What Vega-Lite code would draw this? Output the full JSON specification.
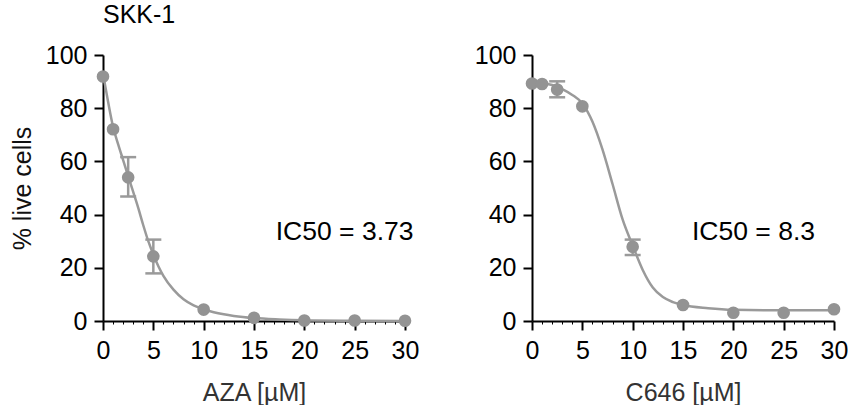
{
  "$schema": "https://vega.github.io/schema/vega-lite/v6.json",
  "background": "white",
  "padding": {"left": 10, "top": 2, "right": 0, "bottom": 0},
  "spacing": 55,
  "config": {
    "font": "Liberation Sans",
    "view": {"stroke": null},
    "axis": {
      "grid": false,
      "labelFlush": false,
      "domainColor": "black",
      "domainWidth": 2,
      "tickColor": "black",
      "tickWidth": 2,
      "tickSize": 9,
      "labelFont": "Liberation Sans",
      "labelFontSize": 25,
      "labelColor": "black",
      "labelPadding": 7,
      "titleFont": "Liberation Sans",
      "titleFontSize": 25,
      "titleFontWeight": "normal",
      "titleColor": "#111111"
    }
  },
  "datasets": {
    "aza_pts": [
      {"dose": 0, "pct": 91.9},
      {"dose": 1, "pct": 72.1},
      {"dose": 2.5, "pct": 54.0, "lo": 46.8, "hi": 61.6},
      {"dose": 5, "pct": 24.3, "lo": 17.9, "hi": 30.6},
      {"dose": 10, "pct": 4.3},
      {"dose": 15, "pct": 1.2},
      {"dose": 20, "pct": 0.2},
      {"dose": 25, "pct": 0.2},
      {"dose": 30, "pct": 0.1}
    ],
    "aza_fit": [
      {"dose": 0, "pct": 93},
      {"dose": 0.5, "pct": 82.5},
      {"dose": 1, "pct": 73},
      {"dose": 1.5, "pct": 66.5},
      {"dose": 2, "pct": 60.5},
      {"dose": 2.5, "pct": 54.5},
      {"dose": 3, "pct": 48.5},
      {"dose": 3.5, "pct": 42.5},
      {"dose": 4, "pct": 36},
      {"dose": 4.5, "pct": 30},
      {"dose": 5, "pct": 25},
      {"dose": 5.5, "pct": 20.6},
      {"dose": 6, "pct": 17},
      {"dose": 7, "pct": 11.8},
      {"dose": 8, "pct": 8.2},
      {"dose": 9, "pct": 5.9},
      {"dose": 10, "pct": 4.4},
      {"dose": 11, "pct": 3.3},
      {"dose": 12, "pct": 2.5},
      {"dose": 13, "pct": 1.9},
      {"dose": 15, "pct": 1.1},
      {"dose": 17.5, "pct": 0.6},
      {"dose": 20, "pct": 0.3},
      {"dose": 25, "pct": 0.1},
      {"dose": 30, "pct": 0}
    ],
    "c646_pts": [
      {"dose": 0, "pct": 89.3},
      {"dose": 1, "pct": 89.1},
      {"dose": 2.5, "pct": 87.0, "lo": 84.1, "hi": 90.1},
      {"dose": 5, "pct": 80.7},
      {"dose": 10, "pct": 27.9, "lo": 24.8, "hi": 30.6},
      {"dose": 15, "pct": 6.0},
      {"dose": 20, "pct": 3.1},
      {"dose": 25, "pct": 3.1},
      {"dose": 30, "pct": 4.4}
    ],
    "c646_fit": [
      {"dose": 0, "pct": 89.8},
      {"dose": 1, "pct": 89.5},
      {"dose": 2, "pct": 88.7},
      {"dose": 3, "pct": 87.2},
      {"dose": 4, "pct": 85},
      {"dose": 5, "pct": 81.8},
      {"dose": 6, "pct": 75},
      {"dose": 7, "pct": 64.5},
      {"dose": 8, "pct": 51.5},
      {"dose": 9, "pct": 38.2},
      {"dose": 10, "pct": 28.4},
      {"dose": 11, "pct": 19.2},
      {"dose": 12, "pct": 12.6},
      {"dose": 13, "pct": 9.0},
      {"dose": 14, "pct": 7.1},
      {"dose": 15, "pct": 6.0},
      {"dose": 17.5, "pct": 4.8},
      {"dose": 20, "pct": 4.2},
      {"dose": 25, "pct": 4.0},
      {"dose": 30, "pct": 4.0}
    ],
    "aza_note": [{"dose": 24, "pct": 33.6, "label": "IC50 = 3.73"}],
    "c646_note": [{"dose": 22, "pct": 33.3, "label": "IC50 = 8.3"}]
  },
  "hconcat": [
    {
      "width": 302,
      "height": 266,
      "title": {"text": "SKK-1", "anchor": "start", "frame": "group", "fontSize": 25, "fontWeight": "normal", "color": "black", "font": "Liberation Sans", "offset": 15.5},
      "resolve": {"axis": {"x": "independent"}},
      "layer": [
        {
          "layer": [
            {
              "data": {"name": "aza_fit"},
              "mark": {"type": "line", "color": "#9a9a9a", "strokeWidth": 2.5, "interpolate": "monotone"},
              "encoding": {
                "x": {"field": "dose", "type": "quantitative", "scale": {"domain": [0, 30], "nice": false, "zero": false},
                  "axis": {"title": "AZA [µM]", "titleColor": "#333333", "titlePadding": 17, "labelPadding": 8,
                    "values": [0, 5, 10, 15, 20, 25, 30], "labelOverlap": false}},
                "y": {"field": "pct", "type": "quantitative", "scale": {"domain": [0, 100], "nice": false},
                  "axis": {"title": "% live cells", "values": [0, 20, 40, 60, 80, 100], "titlePadding": 10}}
              }
            },
            {
              "data": {"name": "aza_pts"},
              "transform": [{"filter": "isValid(datum.lo)"}],
              "mark": {"type": "rule", "color": "#9a9a9a", "strokeWidth": 2.5},
              "encoding": {
                "x": {"field": "dose", "type": "quantitative"},
                "y": {"field": "lo", "type": "quantitative", "title": "% live cells"},
                "y2": {"field": "hi"}
              }
            },
            {
              "data": {"name": "aza_pts"},
              "transform": [{"filter": "isValid(datum.lo)"}],
              "mark": {"type": "tick", "orient": "horizontal", "color": "#9a9a9a", "size": 16, "thickness": 2.5, "opacity": 1},
              "encoding": {
                "x": {"field": "dose", "type": "quantitative"},
                "y": {"field": "lo", "type": "quantitative", "title": "% live cells"}
              }
            },
            {
              "data": {"name": "aza_pts"},
              "transform": [{"filter": "isValid(datum.hi)"}],
              "mark": {"type": "tick", "orient": "horizontal", "color": "#9a9a9a", "size": 16, "thickness": 2.5, "opacity": 1},
              "encoding": {
                "x": {"field": "dose", "type": "quantitative"},
                "y": {"field": "hi", "type": "quantitative", "title": "% live cells"}
              }
            },
            {
              "data": {"name": "aza_pts"},
              "mark": {"type": "circle", "color": "#939393", "size": 160, "opacity": 1},
              "encoding": {
                "x": {"field": "dose", "type": "quantitative"},
                "y": {"field": "pct", "type": "quantitative"}
              }
            },
            {
              "data": {"name": "aza_note"},
              "mark": {"type": "text", "fontSize": 26.5, "color": "black", "align": "center", "baseline": "middle", "font": "Liberation Sans"},
              "encoding": {
                "x": {"field": "dose", "type": "quantitative"},
                "y": {"field": "pct", "type": "quantitative"},
                "text": {"field": "label"}
              }
            }
          ]
        },
        {
          "data": {"name": "aza_fit"},
          "mark": {"type": "point", "opacity": 0},
          "encoding": {
            "x": {"field": "dose", "type": "quantitative",
              "axis": {"orient": "bottom", "title": null, "labels": false, "domain": false, "tickSize": 3, "tickWidth": 1,
                "values": [1, 2, 3, 4, 6, 7, 8, 9, 11, 12, 13, 14, 16, 17, 18, 19, 21, 22, 23, 24, 26, 27, 28, 29]}}
          }
        }
      ]
    },
    {
      "width": 302,
      "height": 266,
      "resolve": {"axis": {"x": "independent"}},
      "layer": [
        {
          "layer": [
            {
              "data": {"name": "c646_fit"},
              "mark": {"type": "line", "color": "#9a9a9a", "strokeWidth": 2.5, "interpolate": "monotone"},
              "encoding": {
                "x": {"field": "dose", "type": "quantitative", "scale": {"domain": [0, 30], "nice": false, "zero": false},
                  "axis": {"title": "C646 [µM]", "titleColor": "#333333", "titlePadding": 17, "labelPadding": 8,
                    "values": [0, 5, 10, 15, 20, 25, 30], "labelOverlap": false}},
                "y": {"field": "pct", "type": "quantitative", "scale": {"domain": [0, 100], "nice": false},
                  "axis": {"title": null, "values": [0, 20, 40, 60, 80, 100]}}
              }
            },
            {
              "data": {"name": "c646_pts"},
              "transform": [{"filter": "isValid(datum.lo)"}],
              "mark": {"type": "rule", "color": "#9a9a9a", "strokeWidth": 2.5},
              "encoding": {
                "x": {"field": "dose", "type": "quantitative"},
                "y": {"field": "lo", "type": "quantitative", "title": null},
                "y2": {"field": "hi"}
              }
            },
            {
              "data": {"name": "c646_pts"},
              "transform": [{"filter": "isValid(datum.lo)"}],
              "mark": {"type": "tick", "orient": "horizontal", "color": "#9a9a9a", "size": 16, "thickness": 2.5, "opacity": 1},
              "encoding": {
                "x": {"field": "dose", "type": "quantitative"},
                "y": {"field": "lo", "type": "quantitative", "title": null}
              }
            },
            {
              "data": {"name": "c646_pts"},
              "transform": [{"filter": "isValid(datum.hi)"}],
              "mark": {"type": "tick", "orient": "horizontal", "color": "#9a9a9a", "size": 16, "thickness": 2.5, "opacity": 1},
              "encoding": {
                "x": {"field": "dose", "type": "quantitative"},
                "y": {"field": "hi", "type": "quantitative", "title": null}
              }
            },
            {
              "data": {"name": "c646_pts"},
              "mark": {"type": "circle", "color": "#939393", "size": 160, "opacity": 1},
              "encoding": {
                "x": {"field": "dose", "type": "quantitative"},
                "y": {"field": "pct", "type": "quantitative", "title": null}
              }
            },
            {
              "data": {"name": "c646_note"},
              "mark": {"type": "text", "fontSize": 26.5, "color": "black", "align": "center", "baseline": "middle", "font": "Liberation Sans"},
              "encoding": {
                "x": {"field": "dose", "type": "quantitative"},
                "y": {"field": "pct", "type": "quantitative", "title": null},
                "text": {"field": "label"}
              }
            }
          ]
        },
        {
          "data": {"name": "c646_fit"},
          "mark": {"type": "point", "opacity": 0},
          "encoding": {
            "x": {"field": "dose", "type": "quantitative",
              "axis": {"orient": "bottom", "title": null, "labels": false, "domain": false, "tickSize": 3, "tickWidth": 1,
                "values": [1, 2, 3, 4, 6, 7, 8, 9, 11, 12, 13, 14, 16, 17, 18, 19, 21, 22, 23, 24, 26, 27, 28, 29]}}
          }
        }
      ]
    }
  ]
}
